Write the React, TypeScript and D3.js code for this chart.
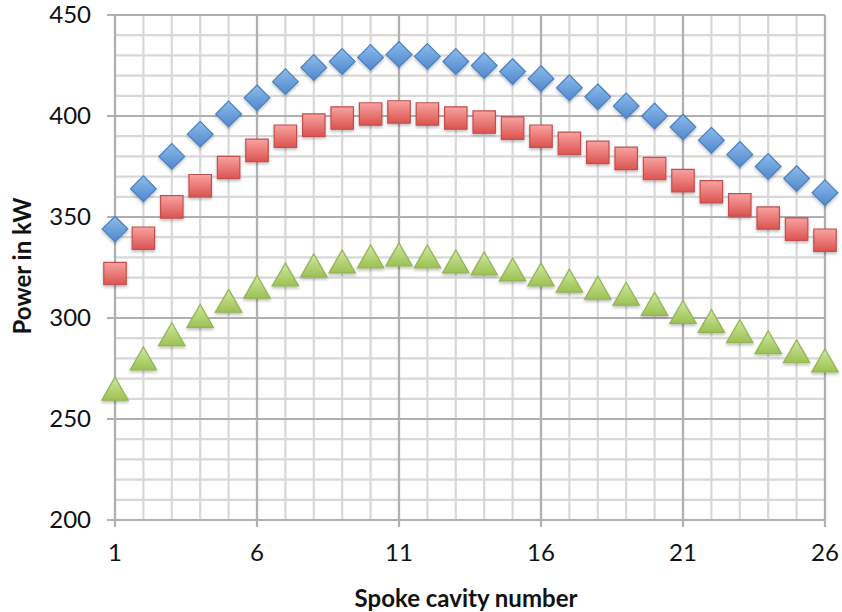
import React from 'react';
import * as d3 from 'd3';

// spoke cavity numbers 1..26
const cavities = [1, 2, 3, 4, 5, 6, 7, 8, 9, 10, 11, 12, 13, 14, 15, 16, 17, 18, 19, 20, 21, 22, 23, 24, 25, 26];

const bluePower = [344, 364, 380, 391, 401, 409, 417, 424, 427, 429, 430.5, 429.5, 427, 425, 422, 418.5, 414, 409.5, 405, 400, 394.5, 388, 381, 375, 369, 362];
const redPower = [322, 339.5, 355, 365.5, 374.5, 383, 390, 395.5, 399, 401, 402, 401, 399, 397, 394, 390, 386.5, 382, 379, 374, 368, 362.5, 356, 349.5, 344, 338.5];
const greenPower = [265, 280, 292, 301, 308.5, 315.5, 321.5, 326, 328, 330.5, 331.5, 330.5, 328, 327, 324, 321.5, 318.5, 315, 312, 307, 303, 298.5, 293.5, 288, 283.5, 279];

const xTickLabels = [1, 6, 11, 16, 21, 26];
const yTickLabels = [200, 250, 300, 350, 400, 450];

const width = 842;
const height = 612;
const margin = {left: 115, right: 17, top: 15, bottom: 92};

const font = 'Lato, "Open Sans", sans-serif';

export default function App() {
    const xScale = d3.scaleLinear().domain([1, 26]).range([margin.left, width - margin.right]);
    const yScale = d3.scaleLinear().domain([200, 450]).range([height - margin.bottom, margin.top]);

    const minorX = d3.range(1, 27);
    const minorY = d3.range(200, 451, 10);

    const diamond = d3.symbol().type(d3.symbolDiamond2).size(420)();
    const square = d3.symbol().type(d3.symbolSquare2).size(640)();
    const triSize = 500;
    const triangle = d3.symbol().type(d3.symbolTriangle2).size(triSize)();
    // triangle2 is centred on its centroid; shift so its box centre sits on the value
    const triShift = Math.sqrt(triSize) * 0.6824 / 4;

    const series = [
        {values: bluePower, path: diamond, dy: 0, fill: 'url(#gBlue)', stroke: '#4a7fc0'},
        {values: redPower, path: square, dy: 0, fill: 'url(#gRed)', stroke: '#c0504d'},
        {values: greenPower, path: triangle, dy: triShift, fill: 'url(#gGreen)', stroke: '#93b452'}
    ];

    return (
        <svg width={width} height={height} style={{position: 'absolute', left: 0, top: 0, background: '#fff'}}>
            <defs>
                <linearGradient id="gBlue" x1="0" y1="0" x2="0" y2="1">
                    <stop offset="0" stopColor="#8dbbec" />
                    <stop offset="1" stopColor="#4f88cc" />
                </linearGradient>
                <linearGradient id="gRed" x1="0" y1="0" x2="0" y2="1">
                    <stop offset="0" stopColor="#f7a3a1" />
                    <stop offset="1" stopColor="#dc5350" />
                </linearGradient>
                <linearGradient id="gGreen" x1="0" y1="0" x2="0" y2="1">
                    <stop offset="0" stopColor="#cfe79e" />
                    <stop offset="1" stopColor="#9cc153" />
                </linearGradient>
                <filter id="shadow" x="-30%" y="-30%" width="160%" height="160%">
                    <feDropShadow dx="0" dy="2" stdDeviation="1.5" floodColor="#000" floodOpacity="0.25" />
                </filter>
            </defs>

            {/* minor grid */}
            <g stroke="#d8d8d8" strokeWidth={2.2}>
                {minorX.map((d) => (
                    <line key={'mx' + d} x1={xScale(d)} x2={xScale(d)} y1={yScale(450)} y2={yScale(200)} />
                ))}
                {minorY.map((d) => (
                    <line key={'my' + d} x1={xScale(1)} x2={xScale(26)} y1={yScale(d)} y2={yScale(d)} />
                ))}
            </g>

            {/* major grid + ticks */}
            <g stroke="#b0b0b0" strokeWidth={2.2}>
                {xTickLabels.map((d) => (
                    <line key={'Mx' + d} x1={xScale(d)} x2={xScale(d)} y1={yScale(450)} y2={yScale(200) + 7} />
                ))}
                {yTickLabels.map((d) => (
                    <line key={'My' + d} x1={xScale(1) - 8} x2={xScale(26)} y1={yScale(d)} y2={yScale(d)} />
                ))}
            </g>

            {/* tick labels */}
            <g fontFamily={font} fontSize={24} fill="#111">
                {yTickLabels.map((d) => (
                    <text key={'ty' + d} x={xScale(1) - 24} y={yScale(d)} dy="0.35em" textAnchor="end">{d}</text>
                ))}
                {xTickLabels.map((d) => (
                    <text key={'tx' + d} x={xScale(d)} y={yScale(200) + 41} textAnchor="middle">{d}</text>
                ))}
            </g>

            {/* axis titles */}
            <text x={466} y={607} textAnchor="middle"
                fontFamily={font} fontWeight="bold" fontSize={24} fill="#111">Spoke cavity number</text>
            <text transform={`translate(31, 266) rotate(-90)`} textAnchor="middle"
                fontFamily={font} fontWeight="bold" fontSize={24} fill="#111">Power in kW</text>

            {/* markers */}
            {series.map((s, si) => (
                <g key={'s' + si} filter="url(#shadow)">
                    {s.values.map((v, i) => (
                        <path key={i} d={s.path ?? ''} transform={`translate(${xScale(cavities[i])}, ${yScale(v) + s.dy})`}
                            fill={s.fill} stroke={s.stroke} strokeWidth={1.2} />
                    ))}
                </g>
            ))}
        </svg>
    );
}
